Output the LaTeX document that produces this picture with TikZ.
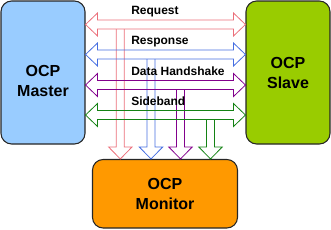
\documentclass[tikz,border=0pt]{standalone}
\usepackage{fontspec}
\setmainfont{Liberation Sans}
\usetikzlibrary{calc}

\definecolor{masterblue}{RGB}{153,204,255}
\definecolor{slavegreen}{RGB}{153,204,0}
\definecolor{monitororange}{RGB}{255,153,0}
\definecolor{busred}{RGB}{235,110,122}
\definecolor{busblue}{RGB}{70,110,225}
\definecolor{buspurple}{RGB}{130,0,140}
\definecolor{busgreen}{RGB}{20,130,20}

\begin{document}
\begin{tikzpicture}[
  x=0.75pt, y=-0.75pt,
  ocpbox/.style={rectangle, draw=black!85, line width=0.8pt, rounded corners=8pt,
                 minimum width=63pt, minimum height=107.25pt, inner sep=0pt},
  boxtext/.style={font=\fontsize{12}{15}\selectfont\bfseries, align=center},
  buslabel/.style={font=\fontsize{9}{11}\selectfont\bfseries, anchor=base west, inner sep=0pt},
  bus/.style={line width=0.6pt, line join=miter}
]
  \useasboundingbox (0,0) rectangle (331,229);

  \node[ocpbox, fill=masterblue] (master) at (43,72.5) {};
  \node[boxtext] (mastertext) at ($(master.center)+(0,8.5)$) {OCP\\Master};
  \node[ocpbox, fill=slavegreen] (slave) at (288,72.5) {};
  \node[boxtext] (slavetext) at (slave.center) {OCP\\Slave};
  \node[ocpbox, fill=monitororange, minimum width=108.75pt, minimum height=51.4pt]
    (monitor) at (165,193.75) {};
  \node[boxtext] (monitortext) at (monitor.center) {OCP\\Monitor};

  \foreach \col/\yy/\xx/\nm/\txt in {busred/24.5/120.3/request/Request,
      busblue/54.5/151/response/Response,
      buspurple/85/180.5/handshake/Data Handshake,
      busgreen/115/210.5/sideband/Sideband}{
    \coordinate (L) at (master.east |- 0,\yy);
    \coordinate (R) at (slave.west |- 0,\yy);
    \draw[\col, bus] (L) -- ++(12,-11.5) -- ++(0,7) -- ($(R)+(-12,-4.5)$) -- ++(0,-7)
      -- (R) -- ++(-12,11.5) -- ++(0,-7) -- ($(L)+(12,4.5)$) -- ++(0,7) -- cycle;
    \draw[\col, bus] ({\xx-4},{\yy+4.5}) -- ({\xx-4},147) -- ({\xx-11.7},147)
      -- (monitor.north -| \xx,0) -- ({\xx+11.7},147) -- ({\xx+4},147) -- ({\xx+4},{\yy+4.5});
    \node[buslabel] (\nm) at (131,{\yy-9.8}) {\txt};
  }
\end{tikzpicture}
\end{document}
